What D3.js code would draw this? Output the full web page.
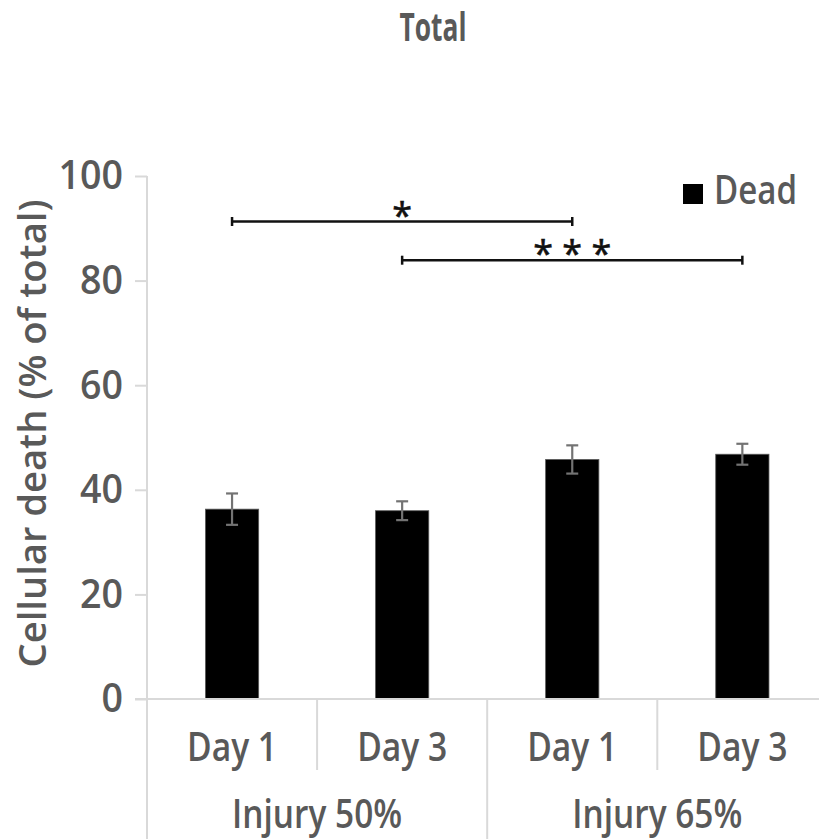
<!DOCTYPE html>
<html>
<head>
<meta charset="utf-8">
<script src="https://cdn.jsdelivr.net/npm/d3@7"></script>
<style>
  html, body { margin: 0; padding: 0; background: #fff; overflow: hidden; }
  text { font-family: "Open Sans", "Noto Sans", sans-serif; }
</style>
</head>
<body>
<svg id="chart" width="819" height="839"></svg>
<script>
// Cell death per condition (% of total), mean and error
const days = ["Day 1", "Day 3", "Day 1", "Day 3"];
const groups = ["Injury 50%", "Injury 65%"];
const deadPct = [36.3, 36.0, 45.8, 46.8];
const deadErr = [3.0, 1.8, 2.7, 2.0];
const yTicks = [0, 20, 40, 60, 80, 100];

// Significance brackets: bar indices, height on the y scale, label
const sigFrom = [0, 1];
const sigTo = [2, 3];
const sigLevel = [91.3, 83.9];
const sigLabel = ["*", "* * *"];

const svg = d3.select("#chart");
const W = 819, H = 839;
const plotLeft = 147, plotTop = 176, baseY = 699;
const gray = "#595959", lineGray = "#d9d9d9";

const x = d3.scaleBand()
  .domain(d3.range(days.length))
  .range([plotLeft, 827.4])
  .paddingInner(0.687)
  .paddingOuter(0.3435);
const step = x.step();
const plotRight = x.range()[1];

const y = d3.scaleLinear().domain([0, 100]).range([baseY, plotTop]);

// Title
svg.append("text")
  .attr("x", 433).attr("y", 41)
  .attr("text-anchor", "middle")
  .attr("font-size", 39).attr("font-weight", 700)
  .attr("fill", gray)
  .attr("textLength", 67).attr("lengthAdjust", "spacingAndGlyphs")
  .text("Total");

// Y axis
const yAxis = d3.axisLeft(y)
  .tickValues(yTicks)
  .tickSize(12)
  .tickPadding(12)
  .tickFormat(d3.format("d"));
const gy = svg.append("g").attr("transform", `translate(${plotLeft},0)`).call(yAxis);
gy.select(".domain").remove();
gy.selectAll(".tick line").attr("stroke", lineGray).attr("stroke-width", 2);
gy.selectAll(".tick text")
  .attr("font-size", 40).attr("font-weight", 600)
  .attr("fill", gray)
  .attr("font-family", "'Open Sans', sans-serif")
  .attr("textLength", d => String(d).length * 21.5)
  .attr("lengthAdjust", "spacingAndGlyphs");

// vertical axis line, running down through the category area
svg.append("line")
  .attr("x1", plotLeft).attr("x2", plotLeft)
  .attr("y1", plotTop).attr("y2", H)
  .attr("stroke", lineGray).attr("stroke-width", 2);

// Y axis title
svg.append("text")
  .attr("transform", `translate(46,${(plotTop + baseY) / 2 - 4}) rotate(-90)`)
  .attr("text-anchor", "middle")
  .attr("font-size", 38).attr("font-weight", 600)
  .attr("fill", gray)
  .attr("textLength", 468).attr("lengthAdjust", "spacingAndGlyphs")
  .text("Cellular death (% of total)");

// Bars
svg.append("g").selectAll("rect")
  .data(deadPct)
  .join("rect")
  .attr("x", (d, i) => x(i))
  .attr("width", x.bandwidth())
  .attr("y", d => y(d))
  .attr("height", d => y(0) - y(d))
  .attr("fill", "#000")
  .attr("stroke", "#5a5a5a")
  .attr("stroke-width", 0.8);

// Baseline
svg.append("line")
  .attr("x1", plotLeft - 12).attr("x2", plotRight)
  .attr("y1", baseY).attr("y2", baseY)
  .attr("stroke", lineGray).attr("stroke-width", 2);

// Error bars
const eb = svg.append("g").attr("stroke", "#737373").attr("stroke-width", 2.2);
deadPct.forEach((v, i) => {
  const cx = x(i) + x.bandwidth() / 2;
  const hi = y(v + deadErr[i]), lo = y(v - deadErr[i]);
  eb.append("line").attr("x1", cx).attr("x2", cx).attr("y1", hi).attr("y2", lo);
  eb.append("line").attr("x1", cx - 6).attr("x2", cx + 6).attr("y1", hi).attr("y2", hi);
  eb.append("line").attr("x1", cx - 6).attr("x2", cx + 6).attr("y1", lo).attr("y2", lo);
});

// Category separators (two-level axis)
const sepShort = 770;
d3.range(days.length + 1).forEach(i => {
  const sx = plotLeft + i * step;
  const full = i % 2 === 0;
  svg.append("line")
    .attr("x1", sx).attr("x2", sx)
    .attr("y1", baseY).attr("y2", full ? H : sepShort)
    .attr("stroke", lineGray).attr("stroke-width", 2);
});

// Day labels
svg.append("g").selectAll("text")
  .data(days)
  .join("text")
  .attr("x", (d, i) => x(i) + x.bandwidth() / 2)
  .attr("y", 761)
  .attr("text-anchor", "middle")
  .attr("font-size", 40).attr("font-weight", 600)
  .attr("fill", gray)
  .attr("textLength", 90).attr("lengthAdjust", "spacingAndGlyphs")
  .text(d => d);

// Group labels
svg.append("g").selectAll("text")
  .data(groups)
  .join("text")
  .attr("x", (d, i) => plotLeft + (2 * i + 1) * step)
  .attr("y", 828)
  .attr("text-anchor", "middle")
  .attr("font-size", 40).attr("font-weight", 600)
  .attr("fill", gray)
  .attr("textLength", 170).attr("lengthAdjust", "spacingAndGlyphs")
  .text(d => d);

// Significance brackets
const sg = svg.append("g");
sigLevel.forEach((lv, k) => {
  const x1 = x(sigFrom[k]) + x.bandwidth() / 2;
  const x2 = x(sigTo[k]) + x.bandwidth() / 2;
  const ly = y(lv);
  sg.append("line").attr("x1", x1).attr("x2", x2).attr("y1", ly).attr("y2", ly)
    .attr("stroke", "#111").attr("stroke-width", 2.5);
  [x1, x2].forEach(ex => sg.append("line")
    .attr("x1", ex).attr("x2", ex).attr("y1", ly - 4.5).attr("y2", ly + 4.5)
    .attr("stroke", "#111").attr("stroke-width", 2.5));
  sg.append("text")
    .attr("x", (x1 + x2) / 2).attr("y", ly + 6)
    .attr("text-anchor", "middle")
    .attr("font-family", "'Liberation Sans', Arial, sans-serif")
    .attr("font-size", 36)
    .attr("fill", "#111")
    .attr("stroke", "#111").attr("stroke-width", 0.6)
    .text(sigLabel[k]);
});

// Legend
svg.append("rect")
  .attr("x", 683).attr("y", 184).attr("width", 20).attr("height", 20)
  .attr("fill", "#000");
svg.append("text")
  .attr("x", 714).attr("y", 204)
  .attr("font-size", 40).attr("font-weight", 600)
  .attr("fill", gray)
  .attr("textLength", 83).attr("lengthAdjust", "spacingAndGlyphs")
  .text("Dead");
</script>
</body>
</html>
